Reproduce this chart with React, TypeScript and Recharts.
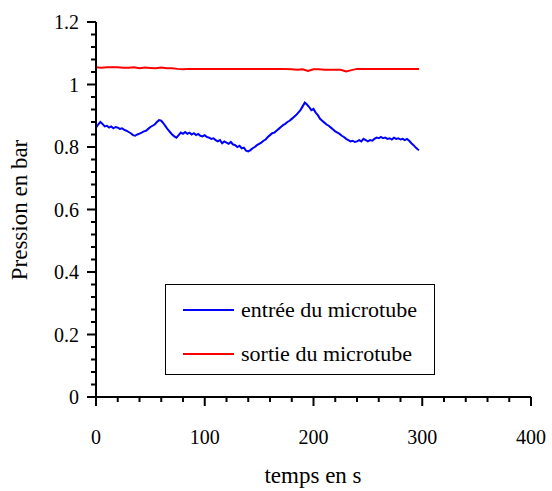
import { LineChart, Line, XAxis, YAxis, Legend } from "recharts";

// temps (s) et pression (bar)
const entreeTime = [
  0, 2, 4, 6, 8, 10, 12, 14, 16, 18, 20, 22, 24, 26, 28, 30, 32, 34, 36, 38,
  40, 42, 44, 46, 48, 50, 52, 54, 56, 58, 60, 62, 64, 66, 68, 70, 72, 74, 76, 78,
  80, 82, 84, 86, 88, 90, 92, 94, 96, 98, 100, 102, 104, 106, 108, 110, 112, 114, 116, 118,
  120, 122, 124, 126, 128, 130, 132, 134, 136, 138, 140, 142, 144, 146, 148, 150, 152, 154, 156, 158,
  160, 162, 164, 166, 168, 170, 172, 174, 176, 178, 180, 182, 184, 186, 188, 190, 192, 194, 196, 198,
  200, 202, 204, 206, 208, 210, 212, 214, 216, 218, 220, 222, 224, 226, 228, 230, 232, 234, 236, 238,
  240, 242, 244, 246, 248, 250, 252, 254, 256, 258, 260, 262, 264, 266, 268, 270, 272, 274, 276, 278,
  280, 282, 284, 286, 288, 290, 292, 294, 296, 297,
];
const entreeP = [
  0.862, 0.872, 0.88, 0.874, 0.866, 0.868, 0.862, 0.866, 0.86, 0.864, 0.862, 0.858, 0.86, 0.855, 0.852, 0.848, 0.844, 0.838, 0.836, 0.84,
  0.843, 0.846, 0.85, 0.852, 0.858, 0.864, 0.868, 0.872, 0.88, 0.886, 0.884, 0.876, 0.866, 0.856, 0.848, 0.84, 0.834, 0.83, 0.838, 0.846,
  0.842, 0.848, 0.842, 0.846, 0.84, 0.844, 0.838, 0.842, 0.836, 0.834, 0.838, 0.832, 0.83, 0.826, 0.828, 0.822, 0.818, 0.822, 0.812, 0.818,
  0.814, 0.81, 0.816, 0.808, 0.806, 0.8, 0.804, 0.796, 0.798, 0.788, 0.786, 0.79, 0.796, 0.8, 0.806, 0.81, 0.814, 0.82, 0.824, 0.832,
  0.838, 0.844, 0.846, 0.852, 0.858, 0.864, 0.87, 0.874, 0.88, 0.884, 0.89, 0.896, 0.902, 0.91, 0.918, 0.93, 0.942, 0.936, 0.928, 0.918,
  0.922, 0.91, 0.902, 0.89, 0.884, 0.878, 0.872, 0.868, 0.862, 0.856, 0.85, 0.846, 0.842, 0.836, 0.832, 0.826, 0.822, 0.818, 0.82, 0.816,
  0.818, 0.822, 0.818, 0.826, 0.822, 0.818, 0.822, 0.82, 0.826, 0.83, 0.828, 0.832, 0.828, 0.83, 0.826, 0.828, 0.824, 0.83, 0.826, 0.828,
  0.824, 0.826, 0.822, 0.826, 0.82, 0.812, 0.806, 0.798, 0.792, 0.79,
];

const sortieTime = [
  0, 5, 10, 15, 20, 25, 30, 35, 40, 45, 50, 55, 60, 65, 70, 75, 80, 85, 90, 95,
  100, 110, 120, 130, 140, 150, 160, 170, 180, 185, 190, 195, 200, 205, 210, 220, 225, 230, 235, 240,
  250, 260, 270, 280, 290, 297,
];
const sortieP = [
  1.055, 1.054, 1.055, 1.055, 1.055, 1.054, 1.054, 1.055, 1.052, 1.054, 1.053, 1.052, 1.054, 1.052, 1.052, 1.05, 1.049, 1.05, 1.05, 1.05,
  1.05, 1.05, 1.05, 1.05, 1.05, 1.05, 1.05, 1.05, 1.049, 1.047, 1.049, 1.043, 1.049, 1.049, 1.047, 1.047, 1.047, 1.042, 1.046, 1.05,
  1.05, 1.05, 1.05, 1.05, 1.05, 1.05,
];

const xMajorTicks = [0, 100, 200, 300, 400];
const yMajorTicks = [0, 0.2, 0.4, 0.6, 0.8, 1, 1.2];

const entree = entreeTime.map((t, i) => ({ t, p: entreeP[i] }));
const sortie = sortieTime.map((t, i) => ({ t, p: sortieP[i] }));

// petites graduations: tous les 20 s et tous les 0.04 bar
const xTicks: number[] = [];
for (let v = 0; v <= 400; v += 20) xTicks.push(v);
const yTicks: number[] = [];
for (let i = 0; i <= 30; i++) yTicks.push(Math.round(i * 0.04 * 100) / 100);

const FONT = "'Liberation Serif', 'Times New Roman', Times, 'DejaVu Serif', serif";
const textStyle = { fontFamily: FONT, fontSize: 20 };
const titleStyle = { fontFamily: FONT, fontSize: 23 };

const XTick = ({ x, y, payload }: any) => {
  const major = xMajorTicks.includes(payload.value);
  return (
    <g>
      <line x1={x} x2={x} y1={y} y2={y + (major ? 9 : 5)} stroke="#000" strokeWidth={2} />
      {major && (
        <text x={x} y={y + 47} textAnchor="middle" style={textStyle} fill="#000">
          {payload.value}
        </text>
      )}
    </g>
  );
};

const YTick = ({ x, y, payload }: any) => {
  const major = yMajorTicks.some((v) => Math.abs(v - payload.value) < 1e-6);
  return (
    <g>
      <line x1={x - (major ? 9 : 5)} x2={x} y1={y} y2={y} stroke="#000" strokeWidth={2} />
      {major && (
        <text x={x - 17} y={y + 7} textAnchor="end" style={textStyle} fill="#000">
          {payload.value}
        </text>
      )}
    </g>
  );
};

const LegendBox = () => (
  <div
    style={{
      width: 270,
      height: 91,
      border: "1.5px solid #000",
      boxSizing: "border-box",
      background: "#fff",
      fontFamily: FONT,
      fontSize: 22,
      color: "#000",
      position: "relative",
      textAlign: "left",
    }}
  >
    {[
      { name: "entrée du microtube", color: "#0000ff", top: 25 },
      { name: "sortie du microtube", color: "#ff0000", top: 69 },
    ].map((it) => (
      <div key={it.name} style={{ position: "absolute", left: 17, top: it.top - 13, height: 26, display: "flex", alignItems: "center", whiteSpace: "nowrap" }}>
        <div style={{ width: 51, height: 2, background: it.color, marginRight: 7 }} />
        <span style={{ lineHeight: "26px" }}>{it.name}</span>
      </div>
    ))}
  </div>
);

export default function App() {
  return (
    <div style={{ position: "absolute", left: 0, top: 0, background: "#fff" }}>
      <LineChart width={552} height={491} margin={{ top: 22, right: 21, left: 0, bottom: 0 }}>
        <XAxis
          dataKey="t"
          type="number"
          domain={[0, 400]}
          ticks={xTicks}
          interval={0}
          tick={<XTick />}
          tickLine={false}
          tickSize={0}
          tickMargin={0}
          height={94}
          axisLine={{ stroke: "#000", strokeWidth: 2 }}
          allowDataOverflow
        />
        <XAxis xAxisId="top" orientation="top" type="number" domain={[0, 400]} height={0} tick={false} tickLine={false} axisLine={{ stroke: "#333", strokeWidth: 2 }} />
        <YAxis
          type="number"
          domain={[0, 1.2]}
          ticks={yTicks}
          interval={0}
          tick={<YTick />}
          tickLine={false}
          tickSize={0}
          tickMargin={0}
          width={96}
          axisLine={{ stroke: "#000", strokeWidth: 2 }}
          allowDataOverflow
        />
        <YAxis yAxisId="right" orientation="right" type="number" domain={[0, 1.2]} width={0} tick={false} tickLine={false} axisLine={{ stroke: "#333", strokeWidth: 2 }} />
        <Line data={entree} dataKey="p" name="entrée du microtube" stroke="#0000ff" strokeWidth={2} dot={false} isAnimationActive={false} />
        <Line data={sortie} dataKey="p" name="sortie du microtube" stroke="#ff0000" strokeWidth={2} dot={false} isAnimationActive={false} />
        <Legend
          layout="vertical"
          verticalAlign="middle"
          align="center"
          content={<LegendBox />}
          wrapperStyle={{ position: "absolute", left: 165, top: 284, width: 270, height: 91, right: "auto", bottom: "auto", margin: 0 }}
        />
        <text x={313} y={483} textAnchor="middle" style={titleStyle} fill="#000">
          temps en s
        </text>
        <text x={27} y={210} transform="rotate(-90 27 210)" textAnchor="middle" style={titleStyle} fill="#000">
          Pression en bar
        </text>
      </LineChart>
    </div>
  );
}
